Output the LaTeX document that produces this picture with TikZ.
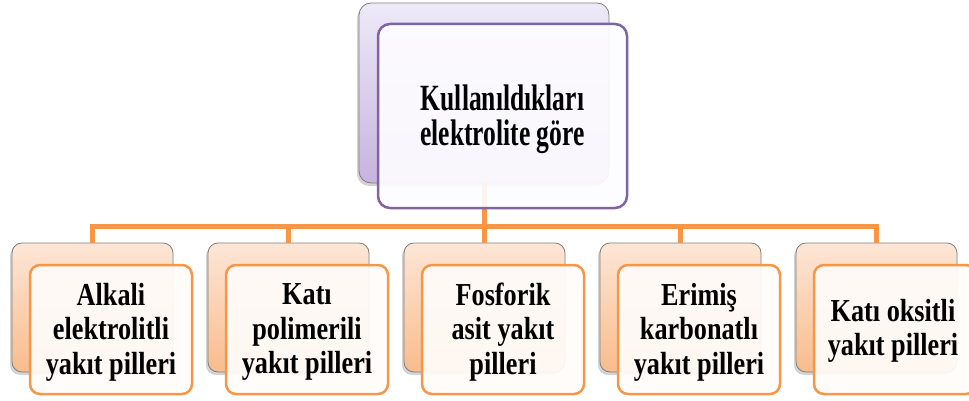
\documentclass[tikz,border=0pt]{standalone}
\usepackage{fontspec}
\setmainfont{Liberation Serif}
\newfontfamily\topfont[FakeStretch=0.69]{Liberation Serif}
\newfontfamily\botfont[FakeStretch=0.82]{Liberation Serif}
\usetikzlibrary{shadows}
\definecolor{conncol}{HTML}{F79646}
\definecolor{purpleedge}{HTML}{8064A2}
\definecolor{lavtop}{HTML}{EEEAF8}
\definecolor{lavbot}{HTML}{C5B4DF}
\definecolor{peachtop}{HTML}{FDE6D6}
\definecolor{peachbot}{HTML}{F9BC8C}
\definecolor{backedge}{HTML}{7F7F7F}
\definecolor{frontfill}{HTML}{FDFCFF}
\definecolor{frontfillo}{HTML}{FFFCFA}
\tikzset{
  conn/.style={line width=5pt, draw=conncol},
  topback/.style={draw=backedge, line width=0.8pt, rounded corners=12pt,
    top color=lavtop, bottom color=lavbot, minimum width=250pt, minimum height=180pt,
    drop shadow={shadow xshift=-2pt, shadow yshift=-3pt, opacity=0.35}},
  topfront/.style={draw=purpleedge, line width=2.5pt, rounded corners=12pt,
    fill=frontfill, fill opacity=0.93, text opacity=1, minimum width=249pt, minimum height=184pt,
    align=center, font=\topfont\bfseries\fontsize{37}{35}\selectfont},
  botback/.style={draw=backedge, line width=0.8pt, rounded corners=10pt,
    top color=peachtop, bottom color=peachbot, minimum width=161pt, minimum height=129pt,
    drop shadow={shadow xshift=-2pt, shadow yshift=-3pt, opacity=0.35}},
  botfront/.style={draw=conncol, line width=2.5pt, rounded corners=10pt,
    fill=frontfillo, fill opacity=0.93, text opacity=1, minimum width=162pt, minimum height=129pt,
    align=center, font=\botfont\bfseries\fontsize{32}{34.5}\selectfont},
}
\begin{document}
\begin{tikzpicture}[x=1pt,y=-1pt]
\useasboundingbox (0,0) rectangle (969,401);
% back boxes
\node[topback] (tb) at (484,93) {};
\foreach \i in {1,...,5}{
  \node[botback] (b\i) at ({92.5+196*(\i-1)},307.5) {};
}
% connectors
\coordinate (hy) at (0,226);
\foreach \i in {1,...,5}{
  \draw[conn] (tb.south) -- (tb.south |- hy) -| (b\i.north);
}
% front boxes
\node[topfront] (tf) at (502.5,116) {};
\node[font=\topfont\bfseries\fontsize{37}{35}\selectfont, align=center] (tt) at (502.5,119) {Kullanıldıkları\\elektrolite göre};
\node[botfront] (f1) at (111,329.5) {};
\node[botfront] (f2) at (307,329.5) {};
\node[botfront] (f3) at (503,329.5) {};
\node[botfront] (f4) at (699,329.5) {};
\node[botfront] (f5) at (895,329.5) {};
\tikzset{bottext/.style={align=center, font=\botfont\bfseries\fontsize{32}{34.5}\selectfont}}
\node[bottext] (t1) at (111,332) {Alkali\\elektrolitli\\yakıt pilleri};
\node[bottext] (t2) at (307,332) {Katı\\polimerili\\yakıt pilleri};
\node[bottext] (t3) at (503,332) {Fosforik\\asit yakıt\\pilleri};
\node[bottext] (t4) at (699,332) {Erimiş\\karbonatlı\\yakıt pilleri};
\node[bottext] (t5) at (893,331) {Katı oksitli\\yakıt pilleri};
\end{tikzpicture}
\end{document}
